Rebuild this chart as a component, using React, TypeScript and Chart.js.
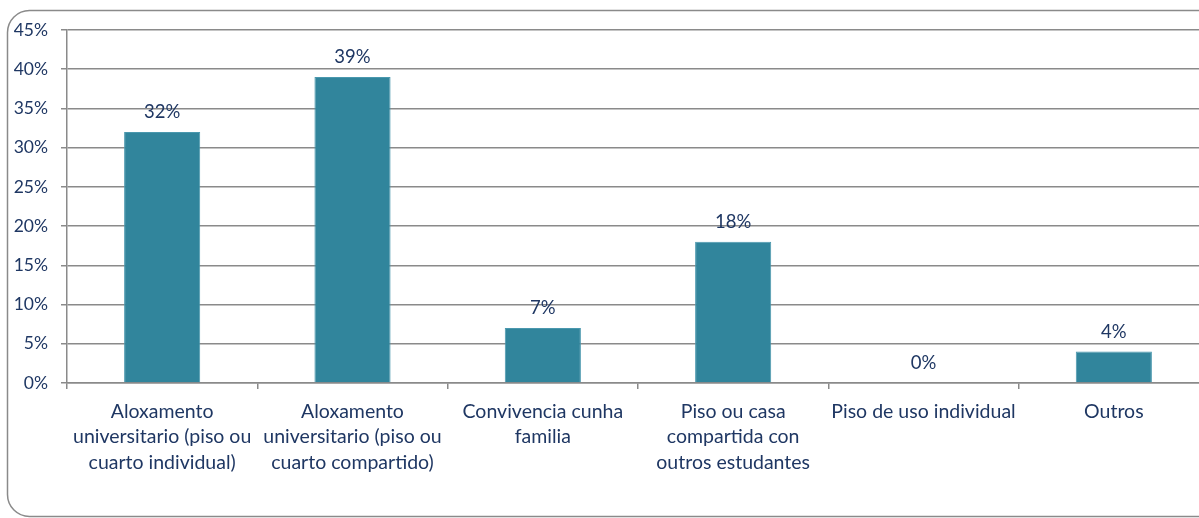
import React, { useEffect, useRef } from "react";
import { Chart, registerables } from "chart.js";

Chart.register(...registerables);

const categories: string[][] = [
  ["Aloxamento", "universitario (piso ou", "cuarto individual)"],
  ["Aloxamento", "universitario (piso ou", "cuarto compartido)"],
  ["Convivencia cunha", "familia"],
  ["Piso ou casa", "compartida con", "outros estudantes"],
  ["Piso de uso individual"],
  ["Outros"],
];
const values: number[] = [32, 39, 7, 18, 0, 4];
const yTicks: number[] = [0, 5, 10, 15, 20, 25, 30, 35, 40, 45];

const TEXT = "#1F3763";
const GRID = "#8A8A8A";
const BAR = "#31859C";
const FONT = "Lato";

const frame = {
  id: "frame",
  beforeDraw(chart: any) {
    const ctx = chart.ctx;
    ctx.save();
    ctx.fillStyle = "#ffffff";
    ctx.fillRect(0, 0, chart.width, chart.height);
    const x = 7.5, y = 10.5, w = chart.width + 20, h = 506, r = 22;
    ctx.beginPath();
    ctx.moveTo(x + r, y);
    ctx.lineTo(x + w - r, y);
    ctx.arcTo(x + w, y, x + w, y + r, r);
    ctx.lineTo(x + w, y + h - r);
    ctx.arcTo(x + w, y + h, x + w - r, y + h, r);
    ctx.lineTo(x + r, y + h);
    ctx.arcTo(x, y + h, x, y + h - r, r);
    ctx.lineTo(x, y + r);
    ctx.arcTo(x, y, x + r, y, r);
    ctx.closePath();
    ctx.strokeStyle = GRID;
    ctx.lineWidth = 1.5;
    ctx.stroke();
    ctx.restore();
  },
};

const labelsPlugin = {
  id: "valueLabels",
  afterDatasetsDraw(chart: any) {
    const ctx = chart.ctx;
    const meta = chart.getDatasetMeta(0);
    ctx.save();
    ctx.fillStyle = TEXT;
    ctx.font = `18.5px ${FONT}`;
    ctx.textAlign = "center";
    ctx.textBaseline = "middle";
    meta.data.forEach((bar: any, i: number) => {
      ctx.fillText(values[i] + "%", bar.x, bar.y - 20);
    });
    ctx.restore();
  },
};

export default function App() {
  const ref = useRef<HTMLCanvasElement>(null);
  useEffect(() => {
    if (!ref.current) return;
    const chart = new Chart(ref.current, {
      type: "bar",
      data: {
        labels: categories,
        datasets: [
          {
            data: values,
            backgroundColor: BAR,
            borderColor: "#4A98AE",
            borderWidth: 1,
            categoryPercentage: 1,
            barPercentage: 0.4,
          },
        ],
      },
      options: {
        animation: false,
        responsive: false,
        maintainAspectRatio: false,
        layout: { padding: { top: 30, left: 0, right: 6, bottom: 0 } },
        plugins: { legend: { display: false }, tooltip: { enabled: false } },
        scales: {
          x: {
            grid: {
              offset: true,
              drawOnChartArea: false,
              drawTicks: true,
              tickLength: 6,
              color: GRID,
              lineWidth: 1.5,
            },
            border: { color: GRID, width: 1.5 },
            ticks: {
              color: TEXT,
              font: { family: FONT, size: 19.5, lineHeight: 1.3 },
              maxRotation: 0,
              minRotation: 0,
              autoSkip: false,
              padding: 10,
            },
            afterFit(scale: any) {
              scale.height = 135;
            },
          },
          y: {
            min: 0,
            max: 45,
            afterBuildTicks(scale: any) {
              scale.ticks = yTicks.map((v) => ({ value: v }));
            },
            grid: {
              color: GRID,
              lineWidth: 1.5,
              tickLength: 6,
            },
            border: { color: GRID, width: 1.5 },
            ticks: {
              color: TEXT,
              font: { family: FONT, size: 17.5 },
              padding: 13,
              callback: (v: any) => v + "%",
            },
            afterFit(scale: any) {
              scale.width = 67;
            },
          },
        },
      },
      plugins: [frame, labelsPlugin],
    });
    return () => chart.destroy();
  }, []);
  return (
    <div
      style={{
        position: "fixed",
        left: 0,
        top: 0,
        width: "100vw",
        height: "100vh",
        overflow: "hidden",
        background: "#fff",
      }}
    >
      <canvas ref={ref} width={1215} height={518} style={{ display: "block", width: 1215, height: 518 }} />
    </div>
  );
}
